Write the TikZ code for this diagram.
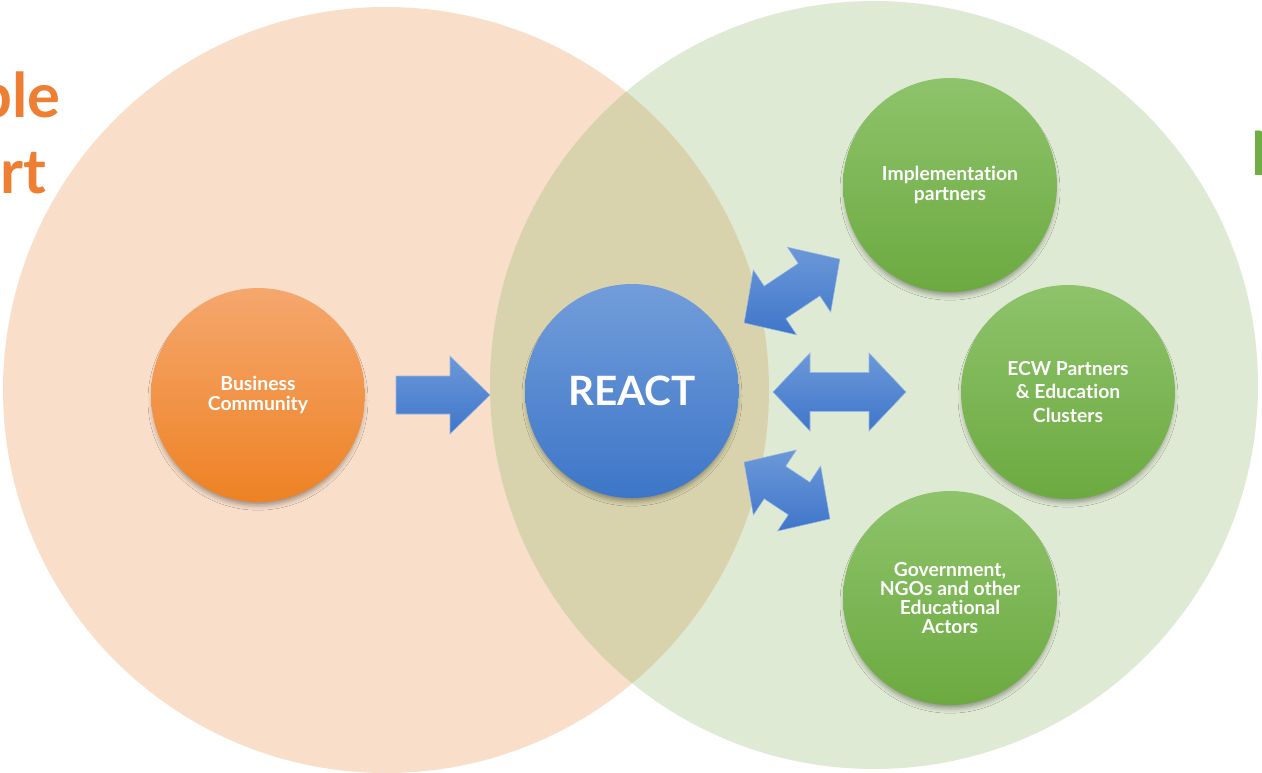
\documentclass[tikz,border=0pt]{standalone}
\usepackage{fontspec}
\setmainfont{Lato}[Ligatures={NoCommon}]
\usetikzlibrary{shadows.blur}

\definecolor{peach}{HTML}{F9DFCA}
\definecolor{mint}{HTML}{DFEAD4}
\definecolor{overlap}{HTML}{D8D3AC}
\definecolor{orangetxt}{HTML}{EE7E32}
\definecolor{greentxt}{HTML}{70AD47}
\definecolor{orangetop}{HTML}{F5A76D}
\definecolor{orangebot}{HTML}{EE8224}
\definecolor{bluetop}{HTML}{729DDA}
\definecolor{bluebot}{HTML}{3D76C8}
\definecolor{greentop}{HTML}{8EC36B}
\definecolor{greenbot}{HTML}{6CAA40}
\definecolor{arrowtop}{HTML}{6C98D8}
\definecolor{arrowbot}{HTML}{3F76CA}

\tikzset{
  bubble/.style={circle, minimum size=4.28cm, inner sep=0pt, align=center,
    text=white, font=\bfseries\fontsize{11}{11}\selectfont,
    blur shadow={shadow xshift=0pt, shadow yshift=-3pt, shadow scale=0.98,
      shadow blur radius=3pt, shadow opacity=40}},
  orangebubble/.style={bubble, top color=orangetop, bottom color=orangebot},
  bluebubble/.style={bubble, top color=bluetop, bottom color=bluebot},
  greenbubble/.style={bubble, top color=greentop, bottom color=greenbot},
  blockarrow/.style={top color=arrowtop, bottom color=arrowbot,
    draw=arrowtop!70!white, line width=0.3pt},
  bigword/.style={font=\bfseries\fontsize{35}{35}\selectfont, inner sep=0pt}
}

% double block arrow: center x, center y, angle, length
\newcommand{\dblarrow}[4]{%
  \begin{scope}[shift={(#1,#2)}, rotate=#3]
    \path[blockarrow] (-#4/2,0) -- (-#4/2+37,39) -- (-#4/2+37,19.5)
      -- (#4/2-37,19.5) -- (#4/2-37,39) -- (#4/2,0) -- (#4/2-37,-39)
      -- (#4/2-37,-19.5) -- (-#4/2+37,-19.5) -- (-#4/2+37,-39) -- cycle;
  \end{scope}}

\begin{document}
\begin{tikzpicture}[x=0.02cm, y=-0.02cm]
  \useasboundingbox (0,0) rectangle (1262,772);
  \clip (0,0) rectangle (1262,772);

  % the two large sets
  \fill[peach] (386,390) circle[radius=383];
  \fill[mint] (874,385) circle[radius=384];
  \begin{scope}
    \clip (386,390) circle[radius=383];
    \fill[overlap] (874,385) circle[radius=384];
  \end{scope}

  \node[bigword, text=orangetxt, anchor=base east] (ble) at (61,117) {ble};
  \node[bigword, text=orangetxt, anchor=base east] (rt) at (47,193) {rt};
  \node[bigword, text=greentxt, anchor=base west] (N) at (1250,175) {N};

  % arrows
  \path[blockarrow] (396,376) -- (450,376) -- (450,356) -- (490,395)
    -- (450,434) -- (450,414) -- (396,414) -- cycle;
  \dblarrow{839.5}{392}{0}{133}
  \dblarrow{792}{291}{33.7}{115}
  \dblarrow{787}{490.5}{-33.5}{103}

  % bubbles
  \node[orangebubble] (business) at (258,395) {Business\\Community};
  \node[bluebubble, font=\bfseries\fontsize{23}{23}\selectfont] (react) at (632,391) {REACT};
  \node[greenbubble] (impl) at (950,185) {Implementation\\partners};
  \node[greenbubble, font=\bfseries\fontsize{11}{13.6}\selectfont] (ecw) at (1068,392)
    {ECW Partners\\\& Education\\Clusters};
  \node[greenbubble] (gov) at (950,598)
    {Government,\\NGOs and other\\Educational\\Actors};
\end{tikzpicture}
\end{document}
